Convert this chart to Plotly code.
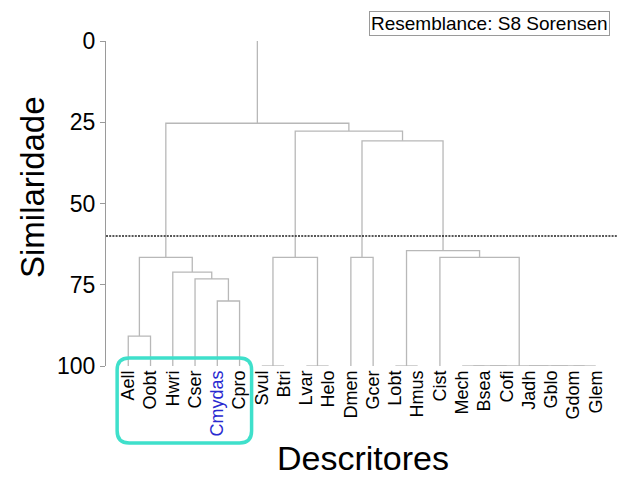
import plotly.graph_objects as go

# ---- data ----
leaves = ["Aell", "Oobt", "Hwri", "Cser", "Cmydas", "Cpro", "Svul", "Btri",
          "Lvar", "Helo", "Dmen", "Gcer", "Lobt", "Hmus", "Cist", "Mech",
          "Bsea", "Cofi", "Jadh", "Gblo", "Gdom", "Glem"]
# merges: node id = len(leaves) + k ; children refer to leaf index or node id
merge_a = [6, 8, 12, 15, 25, 20, 19, 18, 26, 4, 0, 3, 2, 32, 22, 10, 14, 24, 37, 36, 35]
merge_b = [7, 9, 13, 16, 17, 21, 27, 28, 29, 5, 1, 31, 33, 34, 23, 11, 30, 38, 39, 40, 41]
merge_sim = [100, 100, 100, 100, 100, 100, 100, 100, 100, 80.0, 90.8, 73.2, 71.1,
             66.6, 66.6, 66.6, 66.6, 64.5, 30.7, 27.7, 25.3]
cut_level = 60
y_ticks = [0, 25, 50, 75, 100]
highlight = "Cmydas"

# ---- compute dendrogram segments ----
n = len(leaves)
pos = {i: float(i) for i in range(n)}
hgt = {i: 100.0 for i in range(n)}
xs, ys = [], []
for k, (a, b, s) in enumerate(zip(merge_a, merge_b, merge_sim)):
    node = n + k
    xa, xb = pos[a], pos[b]
    xs += [xa, xa, xb, xb, None]
    ys += [hgt[a], s, s, hgt[b], None]
    pos[node] = (xa + xb) / 2
    hgt[node] = s
root = n + len(merge_sim) - 1
xs += [pos[root], pos[root], None]
ys += [hgt[root], 0, None]

FONT = "Liberation Sans, Arial, sans-serif"
fig = go.Figure()
fig.add_trace(go.Scatter(x=xs, y=ys, mode="lines",
                         line=dict(color="#b8b8b8", width=1.3),
                         hoverinfo="skip", showlegend=False))

ticktext = [f'<span style="color:#2a2ad0">{l}</span>' if l == highlight else l for l in leaves]
xmin, xmax = -1, n

fig.update_layout(
    width=624, height=478,
    margin=dict(l=106, r=6, t=41, b=112),
    paper_bgcolor="white", plot_bgcolor="white",
    font=dict(family=FONT, color="black"),
    xaxis=dict(range=[xmin, xmax], tickvals=list(range(n)), ticktext=ticktext,
               tickangle=-90, showgrid=False, zeroline=False, showline=False,
               ticks="", tickfont=dict(size=18, family=FONT, color="black")),
    yaxis=dict(range=[100, 0], tickvals=y_ticks, showgrid=False, zeroline=False,
               showline=True, linecolor="#9a9a9a", linewidth=1,
               ticks="outside", ticklen=5, tickcolor="#9a9a9a",
               tickfont=dict(size=23, family=FONT, color="black")),
    shapes=[
        dict(type="line", xref="paper", yref="y", x0=0, x1=1, y0=cut_level, y1=cut_level,
             line=dict(color="#202020", width=1.4, dash="2px,1.2px")),
    ],
)

# rounded highlight box around the first group (paper coordinates)
def px_to_paper_x(v):
    return (v - xmin) / (xmax - xmin)

bx0 = px_to_paper_x(-0.5)
bx1 = px_to_paper_x(5.54)
by0 = 0.025
by1 = -0.237
rx = 12 / 512
ry = 12 / 325
path = (f"M {bx0+rx},{by0} L {bx1-rx},{by0} Q {bx1},{by0} {bx1},{by0-ry} "
        f"L {bx1},{by1+ry} Q {bx1},{by1} {bx1-rx},{by1} "
        f"L {bx0+rx},{by1} Q {bx0},{by1} {bx0},{by1+ry} "
        f"L {bx0},{by0-ry} Q {bx0},{by0} {bx0+rx},{by0} Z")
fig.add_shape(type="path", xref="paper", yref="paper", path=path,
              line=dict(color="#3fe0cb", width=3.5))

fig.add_annotation(text="Similaridade", xref="paper", yref="paper", x=-0.145, y=0.55,
                   textangle=-90, showarrow=False, font=dict(size=33, family=FONT, color="black"),
                   xanchor="center", yanchor="middle")
fig.add_annotation(text="Descritores", xref="paper", yref="paper", x=0.502, y=-0.283,
                   showarrow=False, font=dict(size=34, family=FONT, color="black"),
                   xanchor="center", yanchor="middle")
fig.add_annotation(text="Resemblance: S8 Sorensen", xref="paper", yref="paper",
                   x=(610 - 106) / 512, y=(366 - 11) / 325, xanchor="right", yanchor="top",
                   showarrow=False, bordercolor="#9a9a9a", borderwidth=1, borderpad=1,
                   bgcolor="white", font=dict(size=19, family=FONT, color="black"))

fig.write_html("out.html")
